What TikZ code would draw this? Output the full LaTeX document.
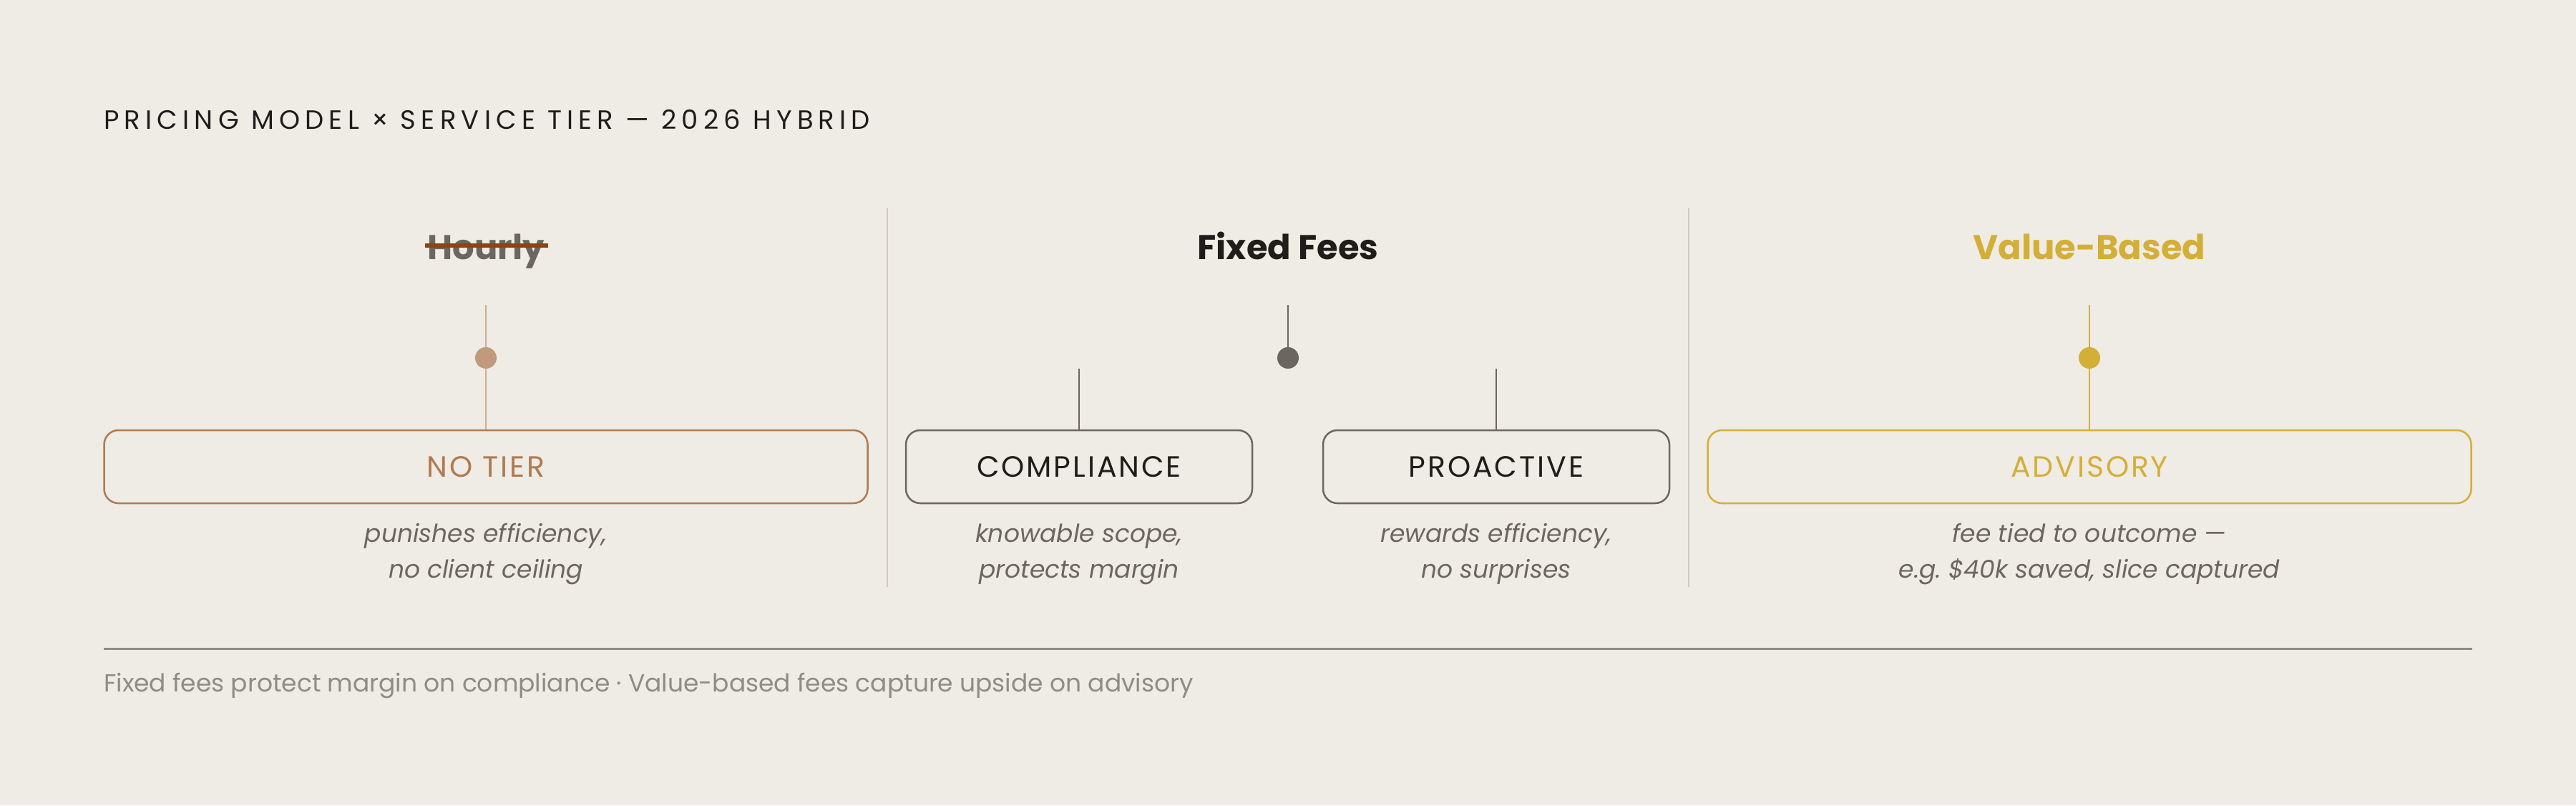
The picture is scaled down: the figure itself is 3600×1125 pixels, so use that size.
\documentclass[tikz,border=0pt]{standalone}
\usepackage{fontspec}
\setmainfont{Poppins}
\newfontfamily\trackfont[LetterSpace=19.5]{Poppins}
\newfontfamily\tierfont[LetterSpace=7]{Poppins}
\definecolor{paper}{HTML}{EFEBE5}
\definecolor{ink}{HTML}{1F1D1A}
\definecolor{slate}{HTML}{6B6760}
\definecolor{rust}{HTML}{B07A50}
\definecolor{tan}{HTML}{C19A7E}
\definecolor{tanline}{HTML}{CBAE96}
\definecolor{strikeout}{HTML}{8B4513}
\definecolor{gold}{HTML}{D4AF37}
\definecolor{rulegray}{HTML}{8F8B85}
\definecolor{divider}{HTML}{CFC9C1}

\begin{document}
\begin{tikzpicture}[x=1pt,y=-1pt,
  every node/.style={inner sep=0pt},
  head/.style={anchor=base,font=\fontsize{48}{56}\selectfont\bfseries},
  tier/.style={draw,rounded corners=20pt,line width=2.5pt,minimum height=102pt,
    font=\tierfont\fontsize{41}{48}\selectfont},
  note/.style={anchor=base,align=center,text=slate,font=\fontsize{34.5}{50}\selectfont\itshape},
  pin/.style={circle,fill,minimum size=30pt},
  stem/.style={line width=2.5pt}]
  \useasboundingbox (0,0) rectangle (3600,1125);
  \fill [paper] (0,0) rectangle (3600,1125);

  \node [anchor=base west,text=ink,font=\trackfont\fontsize{37}{44}\selectfont] (title) at (145,180)
    {PRICING MODEL × SERVICE TIER — 2026 HYBRID};

  \coordinate (d1top) at (1240,291);
  \coordinate (d1bot) at (1240,820);
  \coordinate (d2top) at (2360,291);
  \coordinate (d2bot) at (2360,820);
  \draw [divider,line width=2.5pt] (d1top) -- (d1bot);
  \draw [divider,line width=2.5pt] (d2top) -- (d2bot);

  \node [head,text=slate] (hourly) at (679,362) {Hourly};
  \draw [strikeout,line width=6pt] ([xshift=-3pt,yshift=19pt]hourly.base west) -- ([xshift=5pt,yshift=19pt]hourly.base east);
  \node [head,text=ink] (fixed) at (1800,362) {Fixed Fees};
  \node [head,text=gold] (value) at (2920,362) {Value-Based};

  \node [tier,draw=rust,text=rust,minimum width=1067pt] (notier) at (679,652) {NO TIER};
  \node [tier,draw=slate,text=ink,minimum width=484pt] (compl) at (1508,652) {COMPLIANCE};
  \node [tier,draw=slate,text=ink,minimum width=484pt] (proac) at (2091,652) {PROACTIVE};
  \node [tier,draw=gold,text=gold,minimum width=1067pt] (advis) at (2920,652) {ADVISORY};

  \node [pin,tan] (hdot) at (679,500) {};
  \node [pin,slate] (fdot) at (1800,500) {};
  \node [pin,gold] (vdot) at (2920,500) {};
  \coordinate (htop) at (679,426);
  \coordinate (ftop) at (1800,426);
  \coordinate (vtop) at (2920,426);
  \coordinate (ctop) at (1508,515);
  \coordinate (ptop) at (2091,515);
  \draw [stem,tanline] (htop) -- (hdot) -- (notier.north);
  \draw [stem,slate] (ftop) -- (fdot);
  \draw [stem,slate] (ctop) -- (compl.north);
  \draw [stem,slate] (ptop) -- (proac.north);
  \draw [stem,gold] (vtop) -- (vdot) -- (advis.north);

  \node [note] (hnote) at (679,807) {punishes efficiency,\\no client ceiling};
  \node [note] (cnote) at (1508,807) {knowable scope,\\protects margin};
  \node [note] (pnote) at (2091,807) {rewards efficiency,\\no surprises};
  \node [note] (vnote) at (2920,807) {fee tied to outcome —\\e.g.\ \$40k saved, slice captured};

  \coordinate (rl) at (145,906);
  \coordinate (rr) at (3455,906);
  \draw [rulegray,line width=3pt] (rl) -- (rr);
  \node [anchor=base west,text=rulegray,font=\fontsize{34.5}{40}\selectfont] (footer) at (145,966)
    {Fixed fees protect margin on compliance · Value-based fees capture upside on advisory};
\end{tikzpicture}
\end{document}
